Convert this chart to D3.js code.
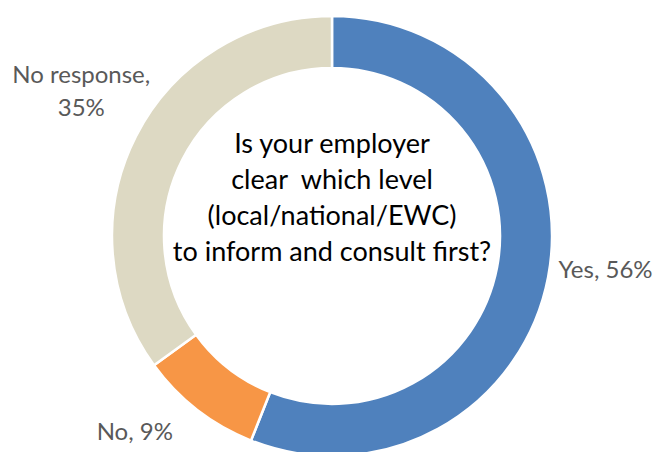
<!DOCTYPE html>
<html>
<head>
<meta charset="utf-8">
<script src="https://cdn.jsdelivr.net/npm/d3@7"></script>
<style>
  html, body { margin: 0; padding: 0; background: #fff; }
  svg { display: block; }
</style>
</head>
<body>
<svg id="chart" width="656" height="452"></svg>
<script>
// Survey answers, in clockwise order from 12 o'clock
const categories = ["Yes", "No", "No response"];
const values = [56, 9, 35];
const colors = ["#4F81BD", "#F79646", "#DDD9C3"];
// Label text lines for each slice
const labelLines = [["Yes, 56%"], ["No, 9%"], ["No response,", "35%"]];
// Nudges for the outside labels, relative to the label arc
const labelNudge = [[28, -5], [-44, 6], [-28, -40]];
const questionLines = [
  "Is your employer",
  "clear  which level",
  "(local/national/EWC)",
  "to inform and consult first?"
];

const width = 656, height = 452;
const cx = 332, cy = 236;
const outerR = 220, innerR = 168;

const svg = d3.select("#chart");
const g = svg.append("g").attr("transform", `translate(${cx},${cy})`);

const pie = d3.pie().sort(null).value(d => d.value);
const data = categories.map((c, i) => ({ category: c, value: values[i], color: colors[i], i }));
const arcs = pie(data);

const arc = d3.arc().innerRadius(innerR).outerRadius(outerR);
const labelArc = d3.arc().innerRadius(250).outerRadius(250);

g.selectAll("path.slice")
  .data(arcs)
  .join("path")
  .attr("class", "slice")
  .attr("d", arc)
  .attr("fill", d => d.data.color)
  .attr("stroke", "#fff")
  .attr("stroke-width", 2.5)
  .attr("stroke-linejoin", "round");

// Outside labels
const lineH = 33;
g.selectAll("text.label")
  .data(arcs)
  .join("text")
  .attr("class", "label")
  .attr("text-anchor", "middle")
  .attr("font-family", "Lato, 'Open Sans', sans-serif")
  .attr("font-size", 24)
  .attr("fill", "#595959")
  .each(function(d) {
    const [x, y] = labelArc.centroid(d);
    const [nx, ny] = labelNudge[d.data.i];
    const lines = labelLines[d.data.i];
    const t = d3.select(this);
    lines.forEach((ln, k) => {
      t.append("tspan")
        .attr("x", x + nx)
        .attr("y", y + ny + k * lineH)
        .text(ln);
    });
  });

// Question in the centre of the ring
const qText = g.append("text")
  .attr("text-anchor", "middle")
  .attr("font-family", "Lato, 'Open Sans', sans-serif")
  .attr("font-size", 27)
  .attr("fill", "#000");
const qLineH = 36;
const qFirstBaseline = 153 - cy;
questionLines.forEach((ln, k) => {
  qText.append("tspan")
    .attr("x", 0)
    .attr("y", qFirstBaseline + k * qLineH)
    .attr("xml:space", "preserve")
    .style("white-space", "pre")
    .text(ln);
});
</script>
</body>
</html>
